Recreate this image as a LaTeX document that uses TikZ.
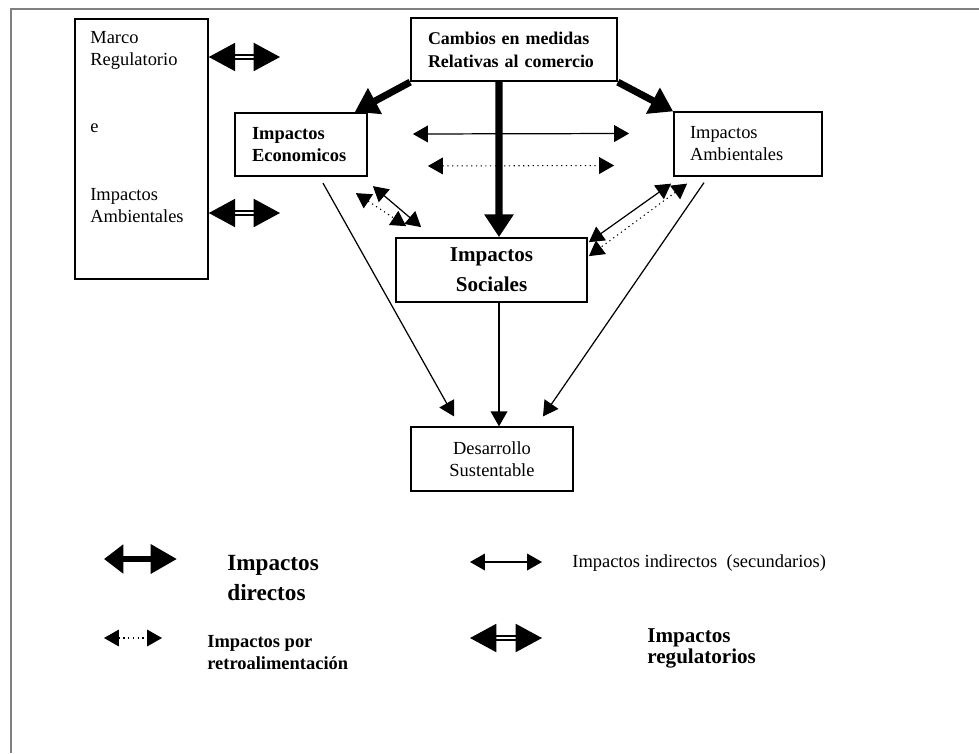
\documentclass[tikz,border=0pt]{standalone}
\usepackage{fontspec}
\setmainfont{Liberation Serif}
\usetikzlibrary{arrows.meta}
\tikzset{
    caja/.style={draw, line width=1pt, inner ysep=0pt, minimum height=12.7mm},
    texto/.style={font=\fontsize{10.5}{12.5}\selectfont},
    negrita/.style={font=\bfseries\fontsize{10.5}{12.5}\selectfont},
    directa/.style={line width=4pt, -{Triangle[length=13pt,width=16pt]}},
    indirecta/.style={line width=0.7pt, {Triangle[length=8.5pt,width=9.5pt]}-{Triangle[length=8.5pt,width=9.5pt]}},
    retro/.style={indirecta, dotted, line width=0.6pt},
    simple/.style={line width=0.7pt, -{Triangle[length=8.5pt,width=9.5pt]}},
    regulatoria/.style={double, double distance=1.4pt, line width=0.9pt, {Triangle[length=15pt,width=16pt]}-{Triangle[length=15pt,width=16pt]}},
    ambas/.style={line width=3.5pt, {Triangle[length=11pt,width=16pt]}-{Triangle[length=15pt,width=16pt]}}
}
\begin{document}
\begin{tikzpicture}[x=0.2mm, y=-0.2mm]
    \useasboundingbox (0,0) rectangle (979,753);
    %Marco
        \draw[gray, line width=0.8pt] (11,753) -- (11,9) -- (979,9);

    %Cajas
        \node[caja, anchor=north west, minimum width=26.6mm, minimum height=52mm] (marco) at (74,18) {};
        \node[texto, anchor=north west, align=left, inner sep=0pt] (marcotxt) at (90,31) {Marco\\Regulatorio\\[9mm]e\\[9.2mm]Impactos\\Ambientales};
        \node[caja, font=\bfseries\fontsize{10.2}{13}\selectfont, text width=34.4mm, inner xsep=3.4mm, align=left] (cambios) at (514,49.5) {Cambios en medidas\\Relativas al comercio};
        \node[caja, negrita, text width=19.6mm, inner xsep=3.4mm, align=left] (econ) at (301,144.5) {Impactos\\Economicos};
        \node[caja, texto, text width=23.2mm, inner xsep=3.2mm, align=left] (amb) at (748,144) {Impactos\\Ambientales};
        \node[caja, font=\bfseries\fontsize{12}{17}\selectfont, minimum width=38.2mm, minimum height=12.8mm, align=center] (soc) at (491.5,270) {Impactos\\Sociales};
        \node[caja, texto, minimum width=32.4mm, align=center] (des) at (492,459) {Desarrollo\\Sustentable};

    %Flechas
        \draw[directa] (cambios.south west) -- ([xshift=-2.6mm]econ.north east);
        \draw[directa] (cambios.south east) -- (amb.north west);
        \draw[directa] ([xshift=-3mm]cambios.south) -- ([xshift=1.5mm]soc.north);

        \draw[indirecta] ([shift={(9mm,2.1mm)}]econ.east) -- ([shift={(-8.8mm,2.1mm)}]amb.west);
        \draw[retro] ([shift={(12mm,-4.3mm)}]econ.east) -- ([shift={(-11.8mm,-4.3mm)}]amb.west);

        \draw[indirecta] ([shift={(1mm,-1.8mm)}]econ.south east) -- ([shift={(5.2mm,2mm)}]soc.north west);
        \draw[retro] ([shift={(-2.4mm,-3.2mm)}]econ.south east) -- ([shift={(2.2mm,2.2mm)}]soc.north west);
        \draw[indirecta] ([shift={(-0.4mm,-1.4mm)}]amb.south west) -- ([shift={(0.2mm,-1mm)}]soc.north east);
        \draw[retro] ([shift={(2.8mm,-1.4mm)}]amb.south west) -- ([shift={(0.2mm,-3.8mm)}]soc.north east);

        \draw[simple] ([shift={(4.4mm,-1.2mm)}]econ.south) -- ([shift={(-7.6mm,2mm)}]des.north);
        \draw[simple] ([xshift=1.5mm]soc.south) -- ([xshift=1.4mm]des.north);
        \draw[simple] ([shift={(-8.8mm,-1.2mm)}]amb.south) -- ([shift={(10.2mm,2mm)}]des.north);

        \coordinate (reg1) at (280,57);
        \coordinate (reg2) at (280,213);
        \draw[regulatoria] (marco.east |- reg1) -- (reg1);
        \draw[regulatoria] (marco.east |- reg2) -- (reg2);

    %Leyenda
        \coordinate (ldir1) at (104,559);
        \coordinate (ldir2) at (177,559);
        \draw[ambas] (ldir1) -- (ldir2);
        \node[anchor=west, align=left, inner sep=0pt, font=\bfseries\fontsize{13.2}{17}\selectfont] (ldirtxt) at (227,578) {Impactos\\directos};

        \coordinate (lind1) at (470,562);
        \coordinate (lind2) at (542,562);
        \draw[indirecta] (lind1) -- (lind2);
        \node[texto, anchor=west, inner sep=0pt] (lindtxt) at (572,563) {Impactos indirectos\ \ (secundarios)};

        \coordinate (lret1) at (104,638);
        \coordinate (lret2) at (162,638);
        \draw[retro] (lret1) -- (lret2);
        \node[negrita, anchor=west, align=left, inner sep=0pt] (lrettxt) at (207,653) {Impactos por\\retroalimentación};

        \coordinate (lreg1) at (470,638);
        \coordinate (lreg2) at (542,638);
        \draw[regulatoria] (lreg1) -- (lreg2);
        \node[anchor=west, align=left, inner sep=0pt, font=\bfseries\fontsize{12}{9.7}\selectfont] (lregtxt) at (647,648) {Impactos\\regulatorios};
\end{tikzpicture}
\end{document}
